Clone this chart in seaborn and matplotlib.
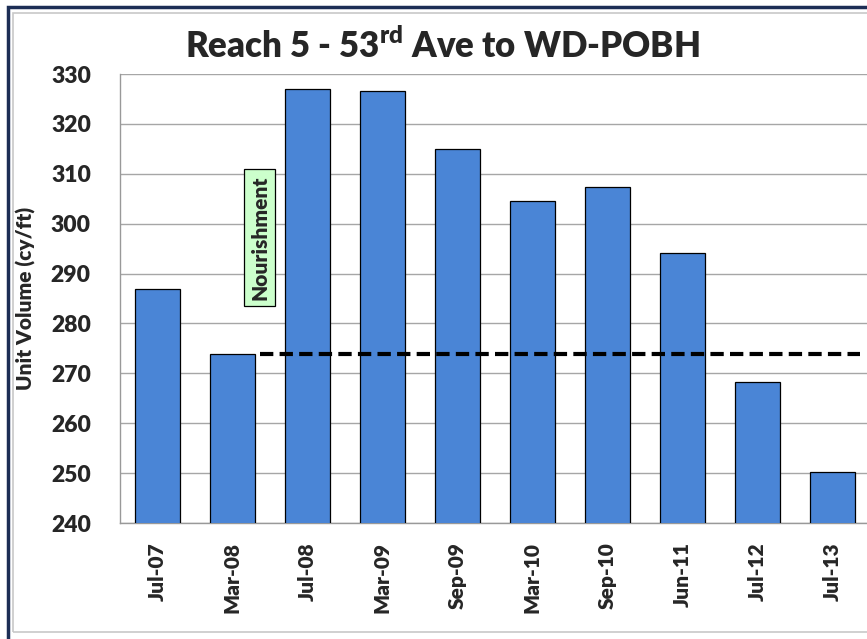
import matplotlib
matplotlib.use("Agg")
import matplotlib.pyplot as plt
from matplotlib.patches import Rectangle
import numpy as np
import pandas as pd
import seaborn as sns

# survey dates and unit volumes (cy/ft)
dates = ["Jul-07", "Mar-08", "Jul-08", "Mar-09", "Sep-09",
         "Mar-10", "Sep-10", "Jun-11", "Jul-12", "Jul-13"]
volumes = [286.9, 273.8, 326.9, 326.5, 315.0, 304.6, 307.4, 294.1, 268.2, 250.2]
baseline_value = 273.8
y_ticks = [240, 250, 260, 270, 280, 290, 300, 310, 320, 330]

df = pd.DataFrame({"date": dates, "volume": volumes})

sns.set_style("white")
plt.rcParams["font.family"] = ["Lato", "DejaVu Sans"]
plt.rcParams["mathtext.fontset"] = "custom"
plt.rcParams["mathtext.rm"] = "Lato:heavy"
plt.rcParams["mathtext.it"] = "Lato:heavy"
plt.rcParams["mathtext.bf"] = "Lato:heavy"

W, H = 867, 639
fig = plt.figure(figsize=(W / 100, H / 100), dpi=100)
fig.patch.set_facecolor("white")

# outer frame: navy line plus light grey inner border
fig.add_artist(Rectangle((7.5 / W, -0.05), 1.2, (H - 6.5) / H + 0.05,
                         transform=fig.transFigure, fill=False,
                         edgecolor="#1c2e55", lw=2.5))
fig.add_artist(Rectangle((13 / W, 1 - 632 / H), 1.2, (632 - 13) / H,
                         transform=fig.transFigure, fill=False,
                         edgecolor="#c8c8c8", lw=1.2))

ax = fig.add_axes([120 / W, 1 - 523 / H, 750 / W, 449 / H])

sns.barplot(data=df, x="date", y="volume", color="#4a85d6", saturation=1,
            width=0.6, edgecolor="black", linewidth=0.9, ax=ax, zorder=3)

ax.set_ylim(240, 330)
ax.set_xlim(-0.5, len(dates) - 0.5)
ax.set_yticks(y_ticks)
ax.yaxis.grid(True, color="#a6a6a6", lw=1, zorder=0)
ax.set_axisbelow(True)

for s in ["top", "right"]:
    ax.spines[s].set_visible(False)
for s in ["left", "bottom"]:
    ax.spines[s].set_color("#999999")
    ax.spines[s].set_linewidth(1)

ax.tick_params(axis="y", which="major", direction="out", length=5, width=1,
               color="#999999", pad=16, labelsize=16.5)
for lab in ax.get_yticklabels():
    lab.set_fontweight("heavy")

ax.set_xticks(np.arange(len(dates)))
ax.set_xticklabels(dates, rotation=90, fontsize=15, fontweight="heavy")
ax.set_xticks(np.arange(len(dates) + 1) - 0.5, minor=True)
ax.tick_params(axis="x", which="major", length=0, pad=14)
ax.tick_params(axis="x", which="minor", direction="out", length=5, width=1,
               color="#999999")

ax.set_xlabel("")
ax.set_ylabel("Unit Volume (cy/ft)", fontsize=15, fontweight="heavy")
ax.yaxis.set_label_coords(-84 / 750, 0.5)

# pre-nourishment baseline
ax.hlines(baseline_value, 1.367, 9.37, colors="black",
          linestyles=(0, (3.2, 1.5)), lw=3, zorder=4)

ax.text(1.36, 297.2, "Nourishment", rotation=90, ha="center", va="center",
        fontsize=15, fontweight="heavy", zorder=5,
        bbox=dict(boxstyle="square,pad=0.3", facecolor="#ccffcc",
                  edgecolor="black", lw=0.9))

fig.text(442 / W, 1 - 46 / H, r"Reach 5 - 53$^{\mathrm{rd}}$ Ave to WD-POBH",
         ha="center", va="center", fontsize=25, fontweight="heavy")

fig.savefig("out.png", dpi=100, facecolor="white")
